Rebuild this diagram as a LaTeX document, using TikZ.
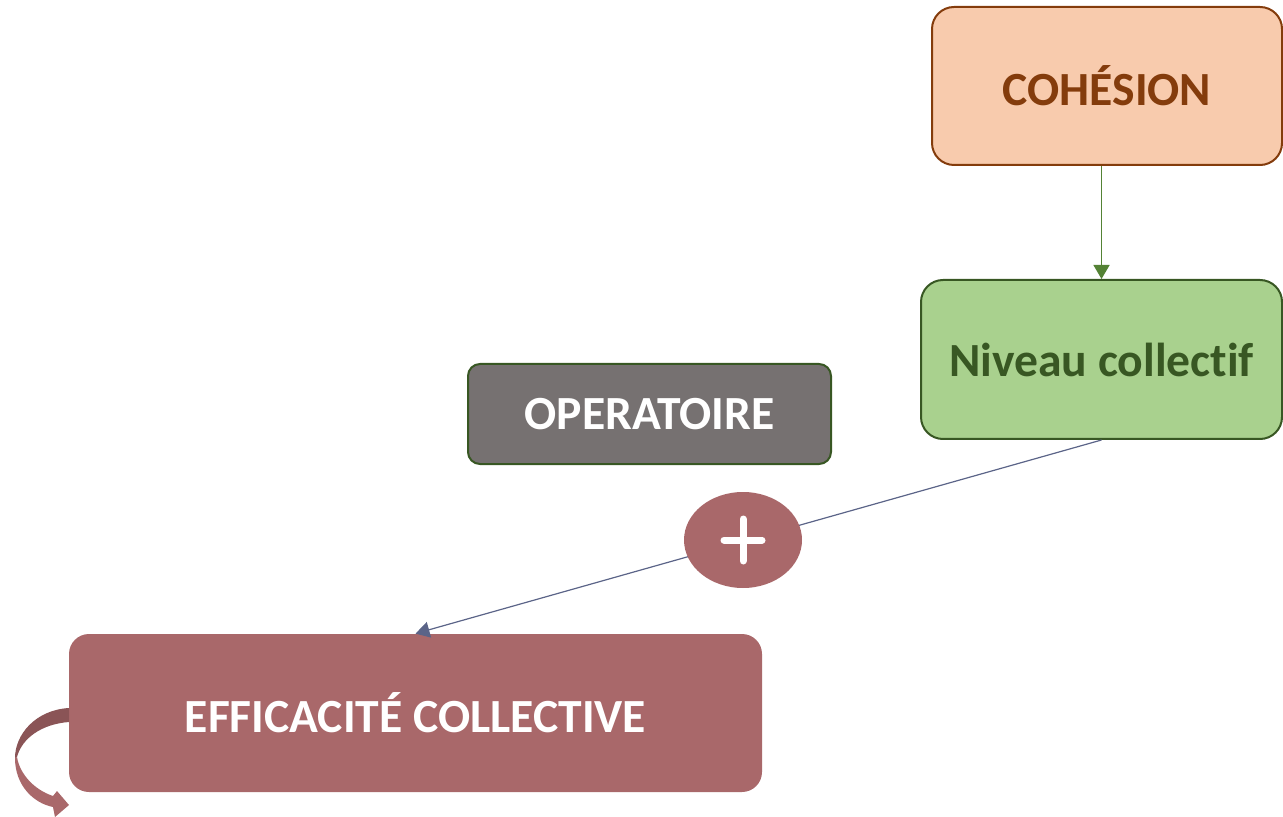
\documentclass[tikz,border=0pt]{standalone}
\usepackage{fontspec}
\setmainfont{Carlito}[Ligatures=NoCommon]
\usepackage{xcolor}
\usetikzlibrary{arrows.meta,shapes.geometric}

\definecolor{cohfill}{HTML}{F8CBAD}
\definecolor{cohline}{HTML}{843C0C}
\definecolor{nivfill}{HTML}{A9D18E}
\definecolor{nivline}{HTML}{385723}
\definecolor{opfill}{HTML}{767171}
\definecolor{efffill}{HTML}{A9686A}
\definecolor{effdark}{HTML}{8A5456}
\definecolor{slate}{HTML}{5B6488}
\definecolor{arrowgreen}{HTML}{548235}

\begin{document}
\begin{tikzpicture}[x=0.5pt, y=-0.5pt,
  box/.style={rectangle, align=center, font=\fontsize{23.8}{28}\selectfont\bfseries, inner sep=0pt}]
\useasboundingbox (0,0) rectangle (1283,817);

\node[box, fill=cohfill, draw=cohline, line width=1pt, text=cohline, rounded corners=11pt,
  minimum width=175pt, minimum height=79pt] (coh) at (1107,86) {COHÉSION};
\node[box, fill=nivfill, draw=nivline, line width=1pt, text=nivline, rounded corners=11pt,
  minimum width=180.5pt, minimum height=79.5pt] (niv) at (1101.5,359.5) {Niveau collectif};
\node[box, fill=opfill, draw=nivline, line width=1pt, text=white, rounded corners=6pt,
  minimum width=181.5pt, minimum height=50pt] (oper) at (649.5,414) {OPERATOIRE};
\node[box, fill=efffill, text=white, rounded corners=10pt,
  minimum width=346.5pt, minimum height=79pt] (eff) at (415.5,713) {EFFICACITÉ COLLECTIVE};

\draw[arrowgreen, line width=0.75pt, -{Triangle[length=7pt, width=8pt]}] (coh.south -| niv.north) -- (niv.north);
\draw[slate, line width=0.6pt, -{Triangle[length=7pt, width=8pt]}] (niv.south) -- (eff.north);

\node[ellipse, fill=efffill, minimum width=59pt, minimum height=48pt, inner sep=0pt] (plus) at (743,540) {};
\draw[white, line width=3.5pt, line cap=round] ([xshift=-9.5pt]plus.center) -- ([xshift=9.5pt]plus.center);
\draw[white, line width=3.5pt, line cap=round] ([yshift=-10.5pt]plus.center) -- ([yshift=10.5pt]plus.center);

\fill[effdark] (69,708) .. controls (35,710) and (15,735) .. (15,758) -- (17,757)
  .. controls (22,738) and (42,724) .. (69,722) -- cycle;
\fill[efffill] (15,758) .. controls (15,785) and (33,803) .. (53,807) -- (55,817) -- (69,805)
  -- (57,791) -- (53,796) .. controls (35,790) and (20,775) .. (17,757) -- cycle;
\end{tikzpicture}
\end{document}
